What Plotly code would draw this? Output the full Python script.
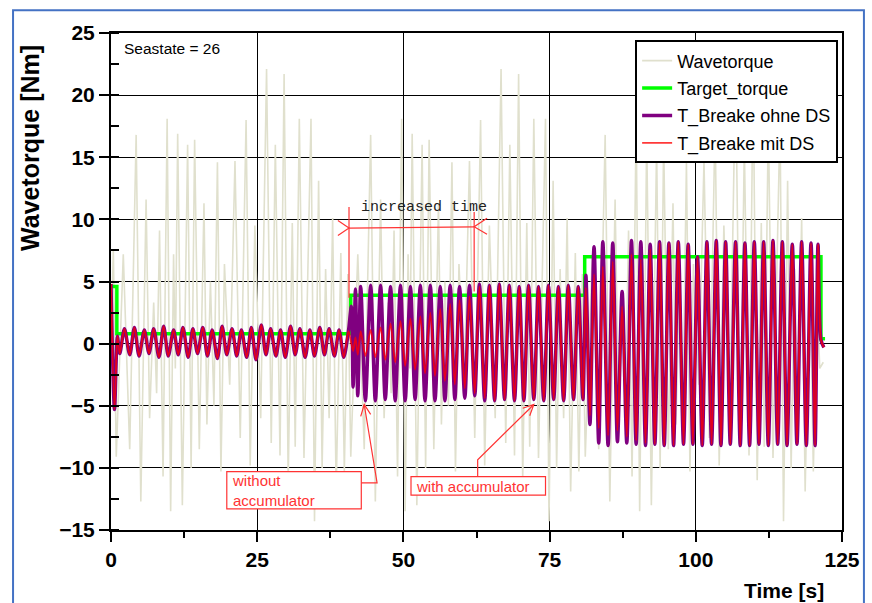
import plotly.graph_objects as go

# ---------------------------------------------------------------
# Wave torque record, seastate 26 (turning points of the signal)
# ---------------------------------------------------------------
wave_t = [
    0.0, 0.4, 0.9, 2.1, 3.2, 4.3, 5.1, 6.0, 6.6, 7.3, 7.8, 8.3, 8.9, 9.6, 10.2, 10.7, 11.0, 11.4,
    12.2, 13.1, 13.7, 14.3, 15.1, 15.9, 16.4, 17.0, 17.6, 18.2, 18.8, 19.4, 20.3, 21.2, 22.1, 23.1,
    23.8, 24.6, 25.6, 26.6, 27.4, 28.1, 28.9, 29.6, 30.3, 31.0, 31.5, 32.2, 33.0, 34.2, 34.8, 35.5,
    36.1, 36.7, 37.3, 37.9, 38.5, 39.3, 39.9,
    40.5, 41.0, 42.2, 43.3, 44.4, 45.2, 46.1, 46.7, 47.4, 47.9, 48.4, 49.0, 49.7, 50.3, 50.8, 51.1,
    51.5, 52.3, 53.2, 53.8, 54.4, 55.2, 56.0, 56.5, 57.1, 57.7, 58.3, 58.9, 59.5, 60.4, 61.3, 62.2,
    63.2, 63.9, 64.7, 65.7, 66.7, 67.5, 68.2, 69.0, 69.7, 70.4, 71.1, 71.6, 72.3, 73.1, 74.3, 74.9,
    75.6, 76.2, 76.8, 77.4, 78.0, 78.6, 79.4, 80.0,
    80.6, 81.1, 82.3, 83.4, 84.5, 85.3, 86.2, 86.8, 87.5, 88.0, 88.5, 89.1, 89.8, 90.4, 90.9, 91.2,
    91.6, 92.4, 93.3, 93.9, 94.5, 95.3, 96.1, 96.6, 97.2, 97.8, 98.4, 99.0, 99.6, 100.5, 101.4, 102.3,
    103.3, 104.0, 104.8, 105.8, 106.8, 107.6, 108.3, 109.1, 109.8, 110.5, 111.2, 111.7, 112.4, 113.2,
    114.4, 115.0, 115.7, 116.3, 116.9, 117.5, 118.1, 118.7, 119.5, 120.1, 120.7, 121.2, 121.8,
]
wave_v = [
    0.0, 7.5, -9.1, 7.2, -8.5, 16.8, -12.7, 11.6, -6.0, 3.3, -4.0, 9.1, -10.7, 18.1, -13.5, 7.2, -2.0, 16.9,
    -13.0, 16.0, -10.0, 16.4, -8.5, 11.3, -6.5, 5.0, -5.0, 14.6, -10.3, 6.4, -3.3, 14.7, -7.6, 18.0,
    -9.8, 9.5, -6.0, 22.1, -8.0, 16.0, -9.0, 21.7, -11.0, 9.7, -8.3, 18.1, -9.2, 18.1, -14.3, 13.1,
    -10.0, 6.0, -6.0, 10.1, -11.9, 7.3, -10.3,
    5.6, -9.1, 7.2, -8.5, 16.8, -12.7, 11.6, -6.0, 3.3, -4.0, 9.1, -10.7, 18.1, -13.5, 7.2, -2.0,
    16.9, -13.0, 16.0, -10.0, 16.4, -8.5, 11.3, -6.5, 5.0, -5.0, 14.6, -10.3, 6.4, -3.3, 14.7, -7.6,
    18.0, -9.8, 9.5, -6.0, 22.1, -8.0, 16.0, -9.0, 21.7, -11.0, 9.7, -8.3, 18.1, -9.2, 18.1, -14.3,
    13.1, -10.0, 6.0, -6.0, 10.1, -11.9, 7.3, -10.3,
    5.6, -9.1, 7.2, -8.5, 16.8, -12.7, 11.6, -6.0, 3.3, -4.0, 9.1, -10.7, 18.1, -13.5, 7.2, -2.0,
    16.9, -13.0, 16.0, -10.0, 16.4, -8.5, 11.3, -6.5, 5.0, -5.0, 14.6, -10.3, 6.4, -3.3, 14.7, -7.6,
    18.0, -9.8, 9.5, -6.0, 22.1, -8.0, 16.0, -9.0, 21.7, -11.0, 9.7, -8.3, 18.1, -9.2,
    18.1, -14.3, 13.1, -10.0, 6.0, -6.0, 10.1, -11.9, 7.3, -10.3, 4.0, -2.0, -1.5,
]

# Target torque set points (step profile)
target_t = [0.0, 1.0, 41.0, 81.0, 121.4, 122.1]
target_v = [4.6, 0.8, 3.9, 7.0, 0.4, 0.4]

# Brake torque turning points, without (ohne) and with (mit) accumulator
brake_t = [
    0.0, 0.6, 1.1, 1.5, 2.3, 3.2, 4.0, 4.8, 5.7, 6.5, 7.3, 8.2, 9.0, 9.8, 10.7, 11.5, 12.3, 13.2,
    14.0, 14.8, 15.7, 16.5, 17.3, 18.2, 19.0, 19.8, 20.7, 21.5, 22.3, 23.2, 24.0, 24.8, 25.7, 26.5,
    27.3, 28.2, 29.0, 29.8, 30.7, 31.5, 32.3, 33.2, 34.0, 34.8, 35.7, 36.5, 37.3, 38.2, 39.0, 39.8,
    40.6,
    41.1, 41.4, 41.8, 42.2, 42.7, 43.5, 44.4, 45.2, 46.1, 46.9, 47.8, 48.6, 49.5, 50.3, 51.2, 52.0,
    52.9, 53.7, 54.6, 55.4, 56.3, 57.1, 58.0, 58.8, 59.6, 60.5, 61.3, 62.2, 63.0, 63.9, 64.7, 65.6,
    66.4, 67.3, 68.1, 69.0, 69.8, 70.6, 71.4, 72.3, 73.1, 74.0, 74.8, 75.7, 76.5, 77.4, 78.2, 79.1,
    79.9, 80.7,
    81.2, 81.9, 82.6, 83.4, 84.1, 85.0, 85.8, 86.6, 87.4, 88.2, 89.0, 89.8, 90.6, 91.4, 92.2, 93.0,
    93.8, 94.6, 95.4, 96.2, 97.0, 97.9, 98.7, 99.5, 100.3, 101.1, 101.9, 102.7, 103.5, 104.3, 105.1,
    105.9, 106.8, 107.6, 108.4, 109.2, 110.0, 110.8, 111.6, 112.4, 113.2, 114.0, 114.8, 115.6, 116.5,
    117.3, 118.1, 118.9, 119.7, 120.4, 120.9, 121.4, 121.9,
]
brake_ohne_v = [
    4.8, -5.3, 0.6, -0.8, 1.2, -0.9, 1.3, -1.0, 1.1, -0.8, 1.2, -1.1, 1.4, -1.0, 1.1, -0.9, 1.3, -1.1,
    1.2, -0.8, 1.3, -1.0, 1.1, -1.2, 1.4, -0.9, 1.2, -1.0, 1.1, -1.1, 1.3, -1.3, 1.5, -0.9,
    1.2, -1.0, 1.1, -1.1, 1.4, -0.9, 1.2, -1.1, 1.1, -1.0, 1.3, -0.9, 1.2, -1.0, 1.1, -1.1,
    1.0,
    3.0, -3.5, 4.4, -4.2, 4.6, -4.6, 4.7, -4.6, 4.7, -4.5, 4.6, -4.6, 4.7, -4.6, 4.6, -4.5,
    4.7, -4.6, 4.7, -4.6, 4.6, -4.6, 4.7, -4.5, 4.6, -4.4, 4.7, -4.2, 4.8, -4.6, 4.7, -4.6,
    4.8, -4.5, 4.7, -4.6, 4.6, -4.6, 4.7, -4.5, 4.6, -4.6, 4.7, -4.5, 4.6, -4.6, 4.7, -4.5,
    4.6, -4.5,
    5.5, -6.5, 7.8, -8.0, 8.2, -8.2, 8.1, -7.9, 4.2, -8.0, 8.3, -8.1, 8.2, -8.2, 8.0, -8.1,
    8.2, -8.2, 8.1, -8.2, 8.2, -8.1, 8.0, -8.1, 7.0, -8.2, 8.2, -8.1, 8.3, -8.2, 8.2,
    -8.1, 8.2, -8.2, 8.1, -8.2, 8.2, -8.1, 8.2, -8.2, 8.3, -8.1, 8.2, -8.2, 8.0,
    -8.1, 8.2, -8.2, 8.1, -8.2, 8.0, 0.3, -0.3,
]
brake_mit_v = [
    4.8, -5.3, 0.6, -0.8, 1.2, -0.9, 1.3, -1.0, 1.1, -0.8, 1.2, -1.1, 1.4, -1.0, 1.1, -0.9, 1.3, -1.1,
    1.2, -0.8, 1.3, -1.0, 1.1, -1.2, 1.4, -0.9, 1.2, -1.0, 1.1, -1.1, 1.3, -1.3, 1.5, -0.9,
    1.2, -1.0, 1.1, -1.1, 1.4, -0.9, 1.2, -1.1, 1.1, -1.0, 1.3, -0.9, 1.2, -1.0, 1.1, -1.1,
    1.0,
    0.0, -0.6, 0.5, -0.9, 1.0, -1.0, 1.1, -1.1, 1.3, -1.3, 1.6, -1.5, 1.8, -1.8, 2.0, -2.1,
    2.2, -2.4, 2.5, -2.6, 2.8, -3.0, 3.2, -3.3, 3.5, -3.6, 3.8, -4.0, 4.6, -4.4, 4.7, -4.6,
    4.8, -4.5, 4.7, -4.6, 4.6, -4.6, 4.7, -4.5, 4.6, -4.6, 4.7, -4.5, 4.6, -4.6, 4.7, -4.5,
    4.6, -4.5,
    4.5, -5.8, 5.6, -6.8, 6.2, -7.4, 6.6, -7.0, 3.0, -7.5, 7.2, -7.8, 6.8, -8.0, 7.6, -8.1,
    8.1, -8.2, 8.1, -8.2, 8.2, -8.1, 8.0, -8.1, 7.0, -8.2, 8.2, -8.1, 8.3, -8.2, 8.2,
    -8.1, 8.2, -8.2, 8.1, -8.2, 8.2, -8.1, 8.2, -8.2, 8.3, -8.1, 8.2, -8.2, 8.0,
    -8.1, 8.2, -8.2, 8.1, -8.2, 8.0, 0.3, -0.3,
]

FONT = "Arial"
RED = "#ff3333"

fig = go.Figure()
fig.add_trace(go.Scatter(
    x=wave_t, y=wave_v, mode="lines", name="Wavetorque", legendgroup="g1",
    line=dict(color="#e0e0cd", width=1.6)))
fig.add_trace(go.Scatter(
    x=target_t, y=target_v, mode="lines", name="Target_torque", legendgroup="g2",
    line=dict(color="#00ff00", width=3.5, shape="hv")))
fig.add_trace(go.Scatter(
    x=brake_t, y=brake_ohne_v, mode="lines", name="T_Breake ohne DS", legendgroup="g3",
    line=dict(color="#800080", width=3.5, shape="spline", smoothing=0.8)))
fig.add_trace(go.Scatter(
    x=brake_t, y=brake_mit_v, mode="lines", name="T_Breake mit DS", legendgroup="g4",
    line=dict(color="rgba(255,0,0,0.78)", width=1.8, shape="spline", smoothing=0.8)))

axis_common = dict(
    showgrid=True, gridcolor="#000000", gridwidth=1,
    showline=True, linecolor="#000000", linewidth=2, mirror=True,
    ticks="outside", ticklen=10, tickwidth=2, tickcolor="#000000",
    tickfont=dict(family=FONT, size=21, color="#000000", weight="bold"),
    zeroline=False,
)
fig.update_xaxes(range=[0, 125], tick0=0, dtick=25,
                 minor=dict(dtick=12.5, ticks="outside", ticklen=6, tickwidth=1.5,
                            tickcolor="#000000", showgrid=False),
                 **axis_common)
fig.update_yaxes(range=[-15, 25], tick0=0, dtick=5,
                 minor=dict(dtick=2.5, ticks="inside", ticklen=8, tickwidth=1.5,
                            tickcolor="#000000", showgrid=False),
                 **axis_common)

shapes = []
line_red = dict(color=RED, width=1.2)
# "increased time" dimension line with extension lines and open arrow heads
shapes += [
    dict(type="line", xref="x", yref="y", x0=40.7, y0=11.0, x1=40.7, y1=3.7, line=line_red),
    dict(type="line", xref="x", yref="y", x0=62.1, y0=10.6, x1=62.1, y1=4.2, line=line_red),
    dict(type="line", xref="x", yref="y", x0=40.7, y0=9.3, x1=62.1, y1=9.4, line=line_red),
    dict(type="path", xref="x", yref="y", path="M 38.8,9.9 L 40.7,9.3 L 38.8,8.7", line=line_red),
    dict(type="path", xref="x", yref="y", path="M 64.3,10.1 L 62.1,9.4 L 64.3,8.8", line=line_red),
]
# callout boxes
shapes += [
    dict(type="rect", xref="x", yref="y", x0=19.8, x1=42.8, y0=-13.3, y1=-10.3,
         line=dict(color=RED, width=1.2), fillcolor="white", layer="above"),
    dict(type="rect", xref="x", yref="y", x0=51.3, x1=74.3, y0=-12.2, y1=-10.7,
         line=dict(color=RED, width=1.2), fillcolor="white", layer="above"),
]
# callout leaders with open arrow heads
shapes += [
    dict(type="path", xref="x", yref="y", path="M 42.8,-11.2 L 45.5,-11.2 L 43.3,-4.9", line=line_red),
    dict(type="path", xref="x", yref="y", path="M 42.7,-5.85 L 43.3,-4.9 L 44.4,-5.7", line=line_red),
    dict(type="path", xref="x", yref="y", path="M 62.7,-10.7 L 62.7,-9.35 L 72.3,-4.9", line=line_red),
    dict(type="path", xref="x", yref="y", path="M 70.4,-5.2 L 72.3,-4.9 L 71.6,-5.8", line=line_red),
]
# outer frame
shapes.append(dict(type="rect", xref="paper", yref="paper", x0=-0.134, x1=1.03, y0=-0.3, y1=1.046,
                   line=dict(color="#4472c4", width=2), fillcolor="rgba(0,0,0,0)", layer="below"))

annotations = [
    dict(text="Seastate = 26", xref="paper", yref="paper", x=0.015, y=0.969,
         xanchor="left", yanchor="middle", showarrow=False,
         font=dict(family=FONT, size=15.5, color="#000000")),
    dict(text="Wavetorque [Nm]", xref="paper", yref="paper", x=-0.11, y=0.768,
         xanchor="center", yanchor="middle", textangle=-90, showarrow=False,
         font=dict(family=FONT, size=25, color="#000000", weight="bold")),
    dict(text="Time [s]", xref="paper", yref="paper", x=0.92, y=-0.121,
         xanchor="center", yanchor="middle", showarrow=False,
         font=dict(family=FONT, size=21, color="#000000", weight="bold")),
    dict(text="increased time", xref="x", yref="y", x=53.5, y=10.96,
         xanchor="center", yanchor="middle", showarrow=False,
         font=dict(family="Liberation Mono", size=15, color="#222222")),
    dict(text="without<br>accumulator", xref="x", yref="y", x=20.3, y=-11.8,
         xanchor="left", yanchor="middle", align="left", showarrow=False,
         font=dict(family=FONT, size=15, color=RED)),
    dict(text="with accumulator", xref="x", yref="y", x=51.8, y=-11.48,
         xanchor="left", yanchor="middle", align="left", showarrow=False,
         font=dict(family=FONT, size=15, color=RED)),
]

fig.update_layout(
    width=872, height=603,
    margin=dict(l=111, r=22, t=33, b=73),
    paper_bgcolor="white", plot_bgcolor="white",
    font=dict(family=FONT, color="#000000"),
    showlegend=True,
    legend=dict(x=0.717, y=0.985, xanchor="left", yanchor="top",
                bgcolor="white", bordercolor="#000000", borderwidth=2,
                font=dict(family=FONT, size=18, color="#000000"),
                tracegroupgap=1, itemwidth=30),
    shapes=shapes,
    annotations=annotations,
)

fig.write_html("out.html")
